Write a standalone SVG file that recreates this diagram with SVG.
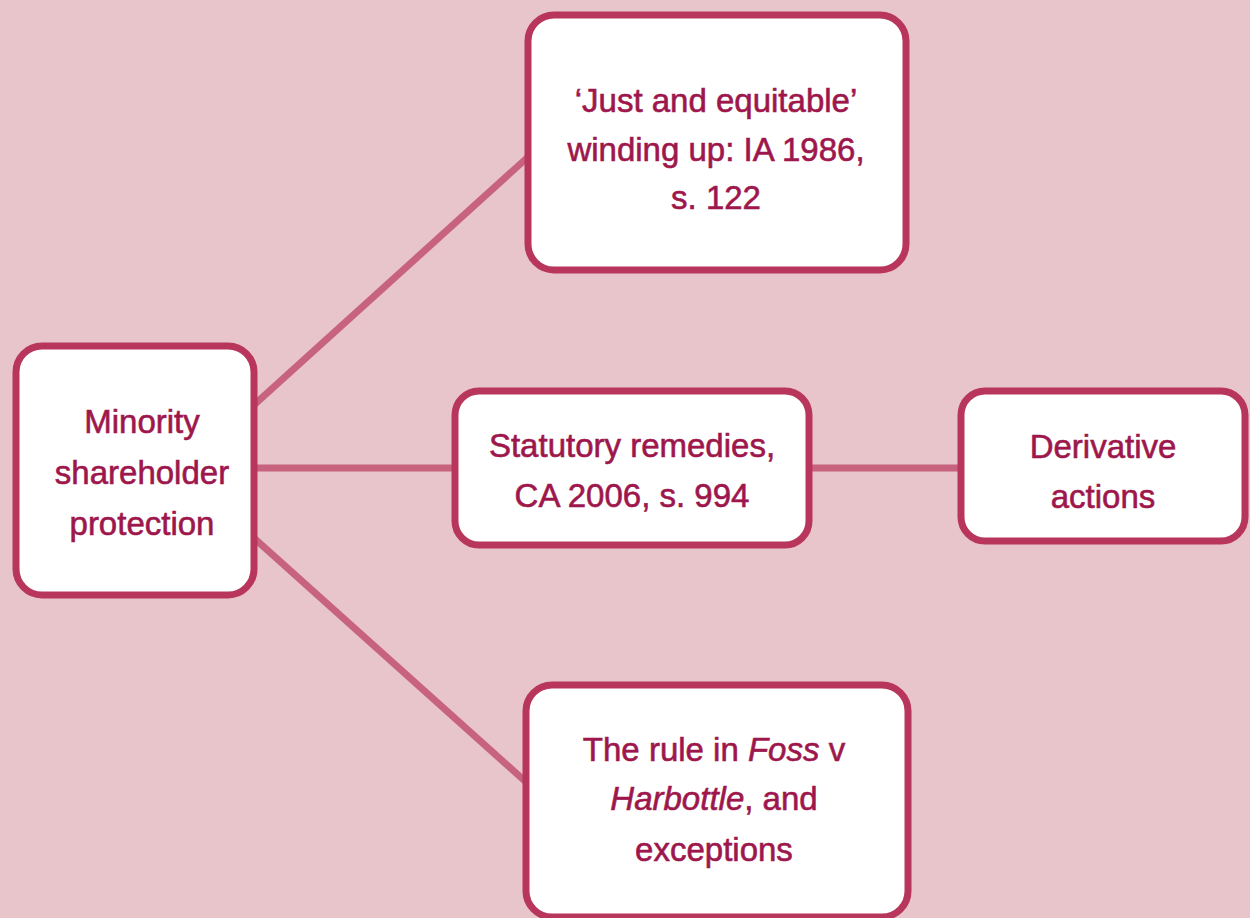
<svg xmlns="http://www.w3.org/2000/svg" width="1250" height="918" viewBox="0 0 1250 918">
  <style>
    .box { fill: #ffffff; stroke: #b8365c; stroke-width: 7; }
    .link { stroke: #c7637d; stroke-width: 7; fill: none; }
    .lbl { font-family: "Liberation Sans", Arial, sans-serif; font-size: 33px; fill: #9e174c; stroke: #9e174c; stroke-width: 0.6; text-anchor: middle; }
    .it { font-style: italic; }
  </style>
  <rect width="1250" height="918" fill="#e8c4cb"/>

  <g id="connectors">
    <line class="link" x1="254" y1="405" x2="528" y2="157"/>
    <line class="link" x1="254" y1="468" x2="454" y2="468"/>
    <line class="link" x1="810" y1="468" x2="960" y2="468"/>
    <line class="link" x1="254" y1="538" x2="526" y2="782"/>
  </g>

  <g id="minority">
    <rect class="box" x="16" y="346" width="238" height="249" rx="26"/>
    <text class="lbl" x="142" y="433">Minority</text>
    <text class="lbl" x="142" y="484">shareholder</text>
    <text class="lbl" x="142" y="535">protection</text>
  </g>

  <g id="winding-up">
    <rect class="box" x="528" y="15" width="378" height="255" rx="26"/>
    <text class="lbl" x="716" y="112">‘Just and equitable’</text>
    <text class="lbl" x="716" y="161">winding up: IA 1986,</text>
    <text class="lbl" x="716" y="209">s. 122</text>
  </g>

  <g id="statutory">
    <rect class="box" x="455" y="391" width="354" height="154" rx="24"/>
    <text class="lbl" x="632" y="457">Statutory remedies,</text>
    <text class="lbl" x="632" y="507">CA 2006, s. 994</text>
  </g>

  <g id="derivative">
    <rect class="box" x="961" y="391" width="284" height="150" rx="24"/>
    <text class="lbl" x="1103" y="458">Derivative</text>
    <text class="lbl" x="1103" y="508">actions</text>
  </g>

  <g id="foss">
    <rect class="box" x="526" y="685" width="382" height="232" rx="26"/>
    <text class="lbl" x="714" y="761">The rule in <tspan class="it">Foss</tspan> v</text>
    <text class="lbl" x="714" y="810"><tspan class="it">Harbottle</tspan>, and</text>
    <text class="lbl" x="714" y="861">exceptions</text>
  </g>
</svg>
